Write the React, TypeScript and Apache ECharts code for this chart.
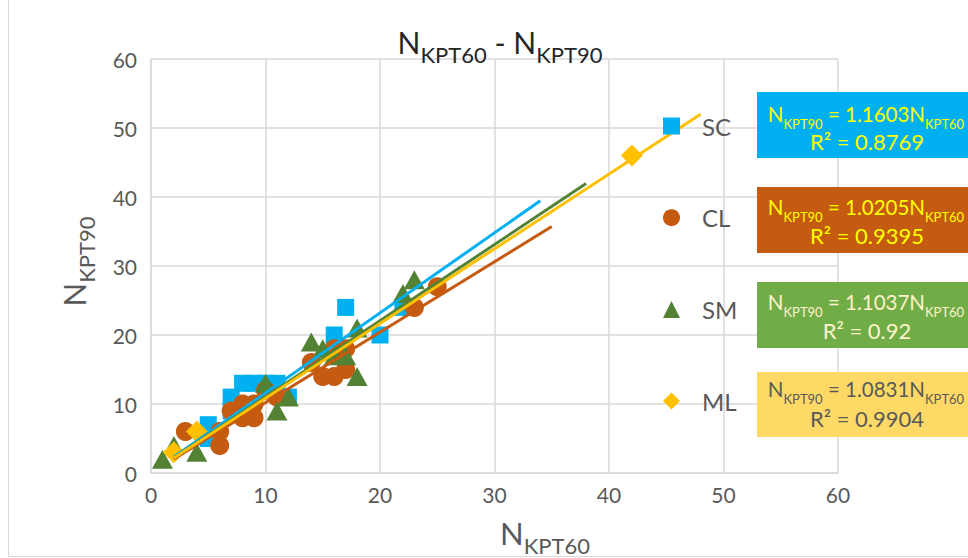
import React, { useEffect, useRef } from "react";
import * as echarts from "echarts";

// ---- data ----
const seriesNames = ["SC", "CL", "SM", "ML"];
const scX = [5, 5, 7, 7, 8, 9, 10, 11, 12, 16, 17, 20, 22];
const scY = [7, 5, 11, 9, 13, 13, 13, 13, 11, 20, 24, 20, 24];
const clX = [3, 6, 6, 7, 8, 8, 9, 9, 10, 11, 14, 15, 16, 16, 17, 17, 23, 25];
const clY = [6, 4, 6, 9, 10, 8, 8, 10, 12, 11, 16, 14, 14, 18, 15, 18, 24, 27];
const smX = [1, 2, 4, 10, 11, 12, 14, 15, 16, 17, 18, 18, 22, 23];
const smY = [2, 4, 3, 13, 9, 11, 19, 18, 17, 17, 14, 21, 26, 28];
const mlX = [2, 4, 42];
const mlY = [3, 6, 46];
const slopes = [1.1603, 1.0205, 1.1037, 1.0831];
const slopeLabels = ["1.1603", "1.0205", "1.1037", "1.0831"];
const r2Labels = ["0.8769", "0.9395", "0.92", "0.9904"];
const trendStart = [2, 2, 2, 2];
const trendEnd = [34, 35, 38, 48];

const FONT = "Lato";
const colors = ["#00B0F0", "#C55A11", "#548235", "#FFC000"];
const symbols = ["rect", "circle", "triangle", "diamond"];
const symbolSizes: any[] = [17, 19, [21, 19], 22];
const boxFill = ["#00B0F0", "#C55A11", "#70AD47", "#FFD966"];
const boxText = ["#FFFF00", "#FFFF00", "#FFF2CC", "#595959"];
const boxTop = [92, 187, 282, 372];
const boxH = [66, 66, 66, 65];
const line1Y = [116, 209, 304, 391.5];
const line2Y = [141.5, 235, 330, 418.5];

const xs = [scX, clX, smX, mlX];
const ys = [scY, clY, smY, mlY];

export default function App() {
  const ref = useRef<HTMLDivElement>(null);
  useEffect(() => {
    if (!ref.current) return;
    const chart = echarts.init(ref.current, null, { renderer: "svg" });

    const scatter = seriesNames.map((name, i) => ({
      name,
      type: "scatter",
      symbol: symbols[i],
      symbolSize: symbolSizes[i],
      itemStyle: { color: colors[i], opacity: 1 },
      data: xs[i].map((x, j) => [x, ys[i][j]]),
      z: 2,
    }));
    const trends = seriesNames.map((name, i) => ({
      name: name + " trend",
      type: "line",
      showSymbol: false,
      symbol: "none",
      silent: true,
      lineStyle: { color: colors[i], width: 3 },
      data: [
        [trendStart[i], trendStart[i] * slopes[i]],
        [trendEnd[i], trendEnd[i] * slopes[i]],
      ],
      z: 3,
    }));

    const eqRich = (i: number) => ({
      n: { fontSize: 20.5, lineHeight: 26, fontFamily: FONT, fill: boxText[i], verticalAlign: "top" },
      s: { fontSize: 13, lineHeight: 13, fontFamily: FONT, fill: boxText[i], verticalAlign: "top", padding: [14, 0, 0, 0] },
    });

    const boxes: any[] = [];
    seriesNames.forEach((_, i) => {
      boxes.push({
        type: "rect",
        z: 100,
        shape: { x: 757, y: boxTop[i], width: 230, height: boxH[i] },
        style: { fill: boxFill[i] },
      });
      boxes.push({
        type: "text",
        z: 101,
        x: 866,
        y: line1Y[i],
        style: {
          text: `{n|N}{s|KPT90}{n| = ${slopeLabels[i]}N}{s|KPT60}`,
          rich: eqRich(i),
          align: "center",
          verticalAlign: "middle",
        },
      });
      boxes.push({
        type: "text",
        z: 101,
        x: 867,
        y: line2Y[i],
        style: {
          text: `R² = ${r2Labels[i]}`,
          fontSize: 22,
          fontFamily: FONT,
          fill: boxText[i],
          align: "center",
          verticalAlign: "middle",
        },
      });
    });

    const titleRich = (col: string, big: number, small: number) => ({
      n: { fontSize: big, lineHeight: 34, fontFamily: FONT, fill: col, verticalAlign: "top" },
      s: { fontSize: small, lineHeight: 22, fontFamily: FONT, fill: col, verticalAlign: "top", padding: [17, 0, 0, 0] },
    });

    const option: any = {
      animation: false,
      backgroundColor: "#ffffff",
      grid: { left: 151, right: 130, top: 59, bottom: 85 },
      xAxis: {
        type: "value",
        min: 0,
        max: 60,
        interval: 10,
        axisLine: { show: true, lineStyle: { color: "#d9d9d9", width: 1.5 } },
        axisTick: { show: false },
        splitLine: { show: true, lineStyle: { color: "#d9d9d9", width: 1.5 } },
        axisLabel: { fontSize: 21, color: "#595959", fontFamily: FONT, margin: 11 },
      },
      yAxis: {
        type: "value",
        min: 0,
        max: 60,
        interval: 10,
        axisLine: { show: true, lineStyle: { color: "#d9d9d9", width: 1.5 } },
        axisTick: { show: false },
        splitLine: { show: true, lineStyle: { color: "#d9d9d9", width: 1.5 } },
        axisLabel: { fontSize: 21, color: "#595959", fontFamily: FONT, margin: 14 },
      },
      legend: {
        orient: "vertical",
        left: 663,
        top: 114,
        padding: 0,
        itemWidth: 17,
        itemHeight: 17,
        itemGap: 67.7,
        selectedMode: false,
        textStyle: { fontSize: 24, color: "#595959", fontFamily: FONT, lineHeight: 24, padding: [0, 0, 0, 17] },
        data: seriesNames.map((name, i) => ({ name, icon: symbols[i], itemStyle: { color: colors[i] } })),
      },
      series: [...scatter, ...trends],
      graphic: [
        {
          type: "line",
          z: 0,
          shape: { x1: 8.5, y1: 0, x2: 8.5, y2: 556.5 },
          style: { stroke: "#d9d9d9", lineWidth: 1 },
        },
        {
          type: "line",
          z: 0,
          shape: { x1: 8.5, y1: 556.5, x2: 968, y2: 556.5 },
          style: { stroke: "#d9d9d9", lineWidth: 1 },
        },
        {
          type: "text",
          z: 50,
          x: 500,
          y: 43.5,
          style: {
            text: "{n|N}{s|KPT60}{n| - N}{s|KPT90}",
            rich: titleRich("#262626", 30, 22),
            align: "center",
            verticalAlign: "middle",
          },
        },
        {
          type: "text",
          z: 50,
          x: 545,
          y: 534,
          style: {
            text: "{n|N}{s|KPT60}",
            rich: titleRich("#595959", 31, 22),
            align: "center",
            verticalAlign: "middle",
          },
        },
        {
          type: "text",
          z: 50,
          x: 75,
          y: 261.5,
          rotation: Math.PI / 2,
          style: {
            text: "{n|N}{s|KPT90}",
            rich: titleRich("#595959", 31, 22),
            align: "center",
            verticalAlign: "middle",
          },
        },
        ...boxes,
      ],
    };
    chart.setOption(option);
    return () => chart.dispose();
  }, []);
  return (
    <div
      ref={ref}
      style={{ position: "fixed", left: 0, top: 0, width: 968, height: 558, background: "#fff" }}
    />
  );
}
